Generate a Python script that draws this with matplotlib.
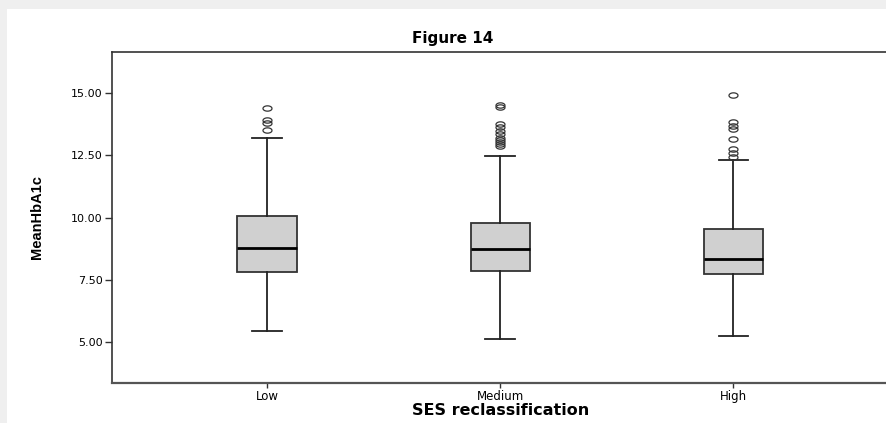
import numpy as np
import matplotlib.pyplot as plt
from matplotlib.patches import Rectangle

# SES groups and the box statistics of MeanHbA1c in each
categories = ['Low', 'Medium', 'High']
medians = [8.76, 8.72, 8.34]
q1 = [7.83, 7.87, 7.73]
q3 = [10.05, 9.78, 9.53]
whislo = [5.45, 5.12, 5.25]
whishi = [13.19, 12.49, 12.33]
outliers_low = [14.41, 13.94, 13.80, 13.52]
outliers_medium = [14.52, 14.44, 13.76, 13.64, 13.50, 13.36, 13.22, 13.12,
                   13.04, 12.96, 12.88]
outliers_high = [14.92, 13.84, 13.70, 13.57, 13.17, 12.74, 12.58, 12.45]
yticks = [5.0, 7.5, 10.0, 12.5, 15.0]

fliers = [outliers_low, outliers_medium, outliers_high]
stats = []
for i in range(len(categories)):
    stats.append(dict(med=medians[i], q1=q1[i], q3=q3[i],
                      whislo=whislo[i], whishi=whishi[i],
                      fliers=fliers[i], label=categories[i]))

# squashed circle used for the outlier markers
t = np.linspace(0, 2 * np.pi, 40)
ellipse = np.column_stack([1.7 * np.cos(t), np.sin(t)])

fig = plt.figure(figsize=(8.87, 4.23), dpi=100)
fig.patch.set_facecolor('white')

# grey window border along the top and left
fig.patches.append(Rectangle((0, 1 - 9 / 423), 1, 9 / 423, transform=fig.transFigure,
                             facecolor='#efefef', edgecolor='none', zorder=0))
fig.patches.append(Rectangle((0, 0), 7 / 887, 1, transform=fig.transFigure,
                             facecolor='#efefef', edgecolor='none', zorder=0))

ax = fig.add_axes([112.3 / 887, 40.3 / 423, 776 / 887, 331 / 423])
ax.bxp(stats, positions=range(len(categories)), widths=0.255, capwidths=0.127,
       patch_artist=True, showfliers=True,
       boxprops=dict(facecolor='#d0d0d0', edgecolor='#333333', linewidth=1.3),
       medianprops=dict(color='black', linewidth=2.0),
       whiskerprops=dict(color='#222222', linewidth=1.3),
       capprops=dict(color='#222222', linewidth=1.3),
       flierprops=dict(marker=ellipse, markersize=6.5, markerfacecolor='none',
                       markeredgecolor='#333333', markeredgewidth=0.9))

ax.set_xlim(-0.664, 2.664)
ax.set_ylim(3.365, 16.67)
ax.set_yticks(yticks)
ax.set_yticklabels(['%.2f' % v for v in yticks], fontsize=8, family='DejaVu Sans')
ax.set_xticks(range(len(categories)))
ax.set_xticklabels(categories, fontsize=8.5, family='DejaVu Sans')
ax.tick_params(axis='y', direction='out', length=5, width=1, color='#333333', pad=2)
ax.tick_params(axis='x', direction='out', length=3.5, width=1, color='#333333', pad=2)
for side in ['left', 'top', 'bottom', 'right']:
    ax.spines[side].set_color('#333333')
    ax.spines[side].set_linewidth(1.2)
ax.spines['bottom'].set_color('#555555')
ax.spines['bottom'].set_linewidth(1.6)

ax.set_xlabel('SES reclassification', fontsize=11.5, fontweight='bold',
              family='DejaVu Sans', va='center')
ax.xaxis.set_label_coords(0.5, -0.0825)
ax.set_ylabel('MeanHbA1c', fontsize=10.5, fontweight='bold',
              family=['Liberation Sans Narrow', 'Liberation Sans'], va='center')
ax.yaxis.set_label_coords(-0.097, 0.5)

fig.text(0.51, 1 - 38 / 423, 'Figure 14', ha='center', va='center',
         fontsize=11, fontweight='bold', family='DejaVu Sans')

fig.savefig('out.png', dpi=100)
